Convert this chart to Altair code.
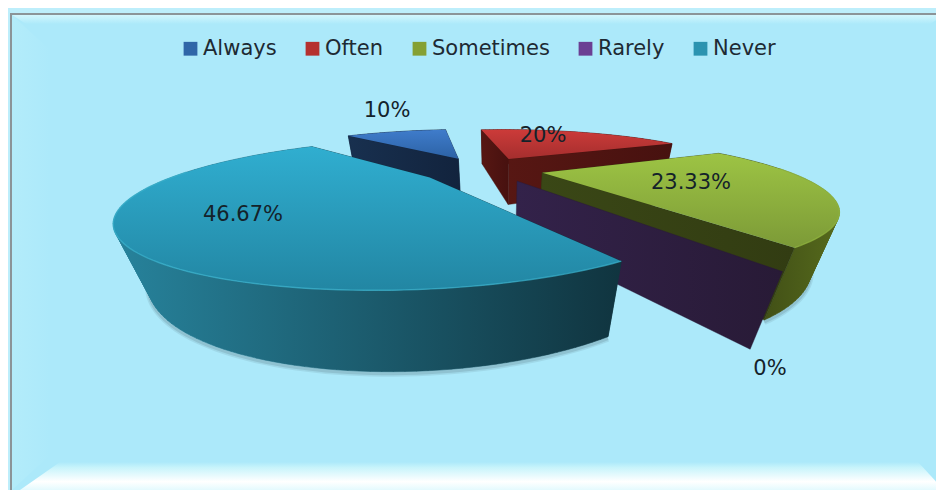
import math
import altair as alt

categories = ["Always", "Often", "Sometimes", "Rarely", "\u00a0Never"]
shares = [10, 20, 23.33, 0, 46.67]
labels = ["10%", "20%", "23.33%", "0%", "46.67%"]

legend_colors = ["#2F66A8", "#B5312F", "#85A033", "#6B3F93", "#2B93B0"]
top_colors = [("#3F7CCB", "#2C62A5"), ("#CC3B39", "#A52E2E"), ("#9DC444", "#7C9A37"),
              ("#3A2A50", "#3A2A50"), ("#30AED0", "#2286A3")]
arc_wall_colors = [("#18304F", "#12233D"), ("#571713", "#47110F"), ("#323C12", "#566A1C"),
                   ("#33224A", "#281A36"), ("#27839C", "#10343F")]
side_colors = [("#18304F", "#12233D"), ("#571713", "#47110F"), ("#3A4716", "#323C12"),
               ("#33224A", "#281A36"), ("#10343F", "#10343F")]

# Camera of the tilted, exploded pie
CX, HORIZON, F, G = 489, 58, 533, 252.5
ORIGIN_X, ORIGIN_Z, EXPLODE, R = -0.03, 2.272, 0.26, 1.025
FIRST_ANGLE = -44
DEPTH = 0.153
NADIR = (500, 950)


def project(X, Z):
    return (CX + F * X / Z, HORIZON + G / Z)


def dropped(X, Z):
    x, y = project(X, Z)
    k = DEPTH / (Z + DEPTH)
    return (x + k * (NADIR[0] - x), y + k * (NADIR[1] - y))


def closed(points):
    return [list(p) for p in points] + [list(points[0])]


def feature(points):
    return {"type": "Feature", "properties": {},
            "geometry": {"type": "Polygon", "coordinates": [closed(points)]}}


def oriented(points):
    area = sum(points[k][0] * points[(k + 1) % len(points)][1] - points[(k + 1) % len(points)][0] * points[k][1]
               for k in range(len(points)))
    return points if area >= 0 else points[::-1]


def gradient(c1, c2, vertical=True):
    stops = [alt.GradientStop(offset=0, color=c1), alt.GradientStop(offset=1, color=c2)]
    return alt.Gradient(gradient="linear", stops=stops, x1=0, y1=0,
                        x2=0 if vertical else 1, y2=1 if vertical else 0)


IDENT = dict(type="identity", scale=1, translate=[-8, -8])


def shape(points, **mark):
    return alt.Chart(alt.Data(values=[feature(points)])).mark_geoshape(**mark).project(**IDENT)


def band(quads, **mark):
    f = {"type": "Feature", "properties": {},
         "geometry": {"type": "MultiPolygon", "coordinates": [[closed(oriented(q))] for q in quads]}}
    return alt.Chart(alt.Data(values=[f])).mark_geoshape(**mark).project(**IDENT)


def outline(points, **mark):
    coords = [list(p) for p in points]
    f = {"type": "Feature", "properties": {}, "geometry": {"type": "LineString", "coordinates": coords}}
    return alt.Chart(alt.Data(values=[f])).mark_geoshape(filled=False, **mark).project(**IDENT)


layers = []

# Frame and bevels
W, H_ = 944, 490
layers += [
    shape([(0, 0), (W, 0), (W, H_), (0, H_)], fill="#BDEEFB", stroke="transparent"),
    shape([(11, 14), (W, 14), (W, H_), (11, H_)], fill="#ACE9FA", stroke="transparent"),
    shape([(12, 15), (W, 15), (W - 14, 24), (26, 24)], stroke="transparent", fill=gradient("#D2F6FD", "#ACE9FA")),
    shape([(12, 15), (50, 50), (50, 455), (12, 490)], stroke="transparent", fill=gradient("#B3ECFA", "#ACE9FA", vertical=False)),
    shape([(60, 462), (918, 462), (W, 490), (20, 490)], stroke="transparent",
          fill=alt.Gradient(gradient="linear", x1=0, y1=0, x2=0, y2=1, stops=[
              alt.GradientStop(offset=0, color="#ACE9FA"),
              alt.GradientStop(offset=0.2, color="#C8F4FB"),
              alt.GradientStop(offset=0.7, color="#FFFFFF"),
              alt.GradientStop(offset=1, color="#E4FAFE")])),
    outline([(11, H_), (11, 14), (W, 14)], stroke="#8B9498", strokeWidth=2),
]

# Slices, from the back of the picture to the front
start = FIRST_ANGLE
for i, share in enumerate(shares):
    span = share * 3.6
    a0 = start
    start += span
    mid = math.radians(a0 + span / 2)
    ax = ORIGIN_X + EXPLODE * math.sin(mid)
    az = ORIGIN_Z + EXPLODE * math.cos(mid)
    n = max(1, int(span / 1.5))
    angles = [a0 + span * j / n for j in range(n + 1)]
    world = [(ax + R * math.sin(math.radians(a)), az + R * math.cos(math.radians(a))) for a in angles]
    top = [project(*p) for p in world]
    low = [dropped(*p) for p in world]
    apex_t, apex_b = project(ax, az), dropped(ax, az)
    c_top, c_arc, c_side = top_colors[i], arc_wall_colors[i], side_colors[i]
    side_fill = gradient(c_side[0], c_side[1], vertical=False)
    side_stroke = c_side[1]

    def faces_viewer(angle_deg, sign):
        normal = math.radians(angle_deg + sign * 90)
        return math.sin(normal) * (-ax) + math.cos(normal) * (-az) > 0

    sides = [
        (faces_viewer(angles[0], -1), [apex_t, top[0], low[0], apex_b]),
        (faces_viewer(angles[-1], 1), [apex_t, top[-1], low[-1], apex_b]),
    ]
    if share == 0:
        sides = sides[1:]
        sides[0] = (True, sides[0][1])
    for front, quad in sides:
        if not front:
            layers.append(shape(quad, fill=side_fill, stroke=side_stroke, strokeWidth=0.4))
    if share > 0:
        if i in (2, 4):
            shadow = [(x, y + 2) for x, y in low]
            layers.append(outline(shadow, stroke="#4A6470", strokeWidth=6, opacity=0.12))
            layers.append(outline(shadow, stroke="#4A6470", strokeWidth=3, opacity=0.18))
        quads = [[top[j], top[j + 1], low[j + 1], low[j]] for j in range(n)]
        arc_fill = gradient(c_arc[0], c_arc[1], vertical=False)
        layers.append(band(quads, fill=arc_fill, stroke=arc_fill, strokeWidth=0.6))
    for front, quad in sides:
        if front:
            layers.append(shape(quad, fill=side_fill, stroke=side_stroke, strokeWidth=0.4))
    if share > 0:
        layers.append(shape([apex_t] + top, fill=gradient(c_top[0], c_top[1]), stroke="transparent"))
        rim = {4: "#3BB3CE", 2: "#93B840"}.get(i)
        if rim:
            near = [p for p, a in zip(top, angles) if math.cos(math.radians(a)) < 0.1]
            layers.append(outline(near, stroke=rim, strokeWidth=1.4, opacity=0.7))

# Legend
legend_rows = [{"category": c} for c in categories]
legend_layer = alt.Chart(alt.Data(values=legend_rows)).mark_point(
    shape="square", opacity=0, filled=True
).encode(
    x=alt.value(0), y=alt.value(0),
    color=alt.Color(
        "category:N",
        scale=alt.Scale(domain=categories, range=legend_colors),
        sort=categories,
        legend=alt.Legend(
            title=None, orient="none", legendX=172, legendY=30, direction="horizontal",
            columns=5, symbolType="square", symbolSize=190, symbolOpacity=1,
            symbolStrokeWidth=0, labelFont="DejaVu Sans", labelFontSize=21,
            labelColor="#1E2A33", labelOffset=2, columnPadding=25, padding=0,
        ),
    ),
)
layers.append(legend_layer)

# Data labels
label_x = [387, 543, 691, 770, 243]
label_y = [111, 136, 183, 369, 215]
label_rows = [{"t": t, "px": x - 8, "py": y - 8} for t, x, y in zip(labels, label_x, label_y)]
layers.append(
    alt.Chart(alt.Data(values=label_rows)).mark_text(
        font="DejaVu Sans", fontSize=21, color="#14222A", align="center", baseline="middle"
    ).encode(
        x=alt.X("px:Q", scale=None), y=alt.Y("py:Q", scale=None), text="t:N"
    )
)

chart = alt.layer(*layers).resolve_scale(color="independent").properties(
    width=928, height=482, padding=0, autosize="none"
).configure_view(strokeWidth=0)

chart.save("out.html", embed_options={"renderer": "svg", "actions": False})
